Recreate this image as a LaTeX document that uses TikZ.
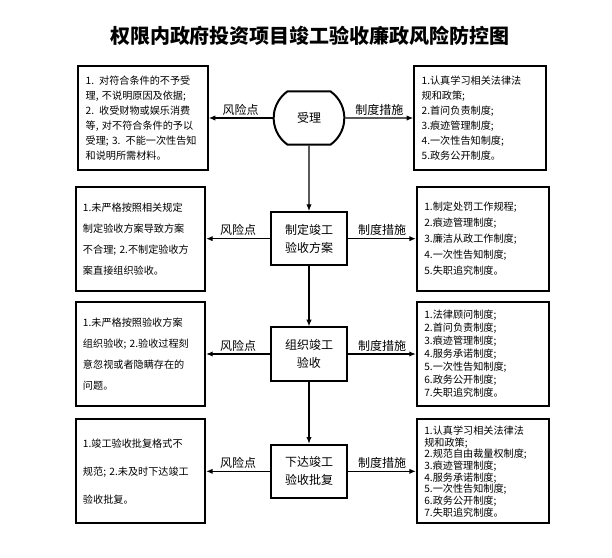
\documentclass[tikz,border=0pt]{standalone}
\usepackage{fontspec}
\setmainfont{Noto Sans CJK SC}
\usetikzlibrary{
  arrows.meta,
  positioning,
  shapes.misc
}
\tikzset{
  stepbox/.style={draw=black,line width=1.5pt,fill=white,
    minimum width=57pt,minimum height=40pt,inner sep=2pt,align=center,
    font=\fontsize{9}{13.5}\selectfont},
  startbox/.style={stepbox,rounded rectangle,rounded rectangle arc length=110},
  riskbox/.style={draw=black,line width=1.5pt,fill=white,
    text width=86pt,minimum height=78pt,inner xsep=5.5pt,align=left},
  measurebox/.style={draw=black,line width=1.5pt,fill=white,
    text width=88pt,minimum height=78pt,inner xsep=5.5pt,align=left},
  boxfont/.style={font=\fontsize{7.6}{#1}\selectfont},
  riskflow/.style={-{Latex[length=5pt,width=4pt]},line width=1.1pt},
  downflow/.style={-{Latex[length=5pt,width=4pt]},line width=0.8pt},
  lab/.style={font=\fontsize{9}{10}\selectfont,inner sep=1.5pt}
}

\begin{document}
\begin{tikzpicture}[x=0.75pt,y=-0.75pt,node distance=46.5pt and 48pt]
  \useasboundingbox[fill=white] (0,0) rectangle (612,558);
  \node[font=\fontsize{15}{18}\selectfont\bfseries] (title) at (310,36)
    {权限内政府投资项目竣工验收廉政风险防控图};

  % steps
  \node[startbox] (accept) at (309,118) {受理};
  \node[stepbox,below=49pt of accept] (plan) {制定竣工\\验收方案};
  \node[stepbox,below=45pt of plan] (organize) {组织竣工\\验收};
  \node[stepbox,below=46.5pt of organize] (issue) {下达竣工\\验收批复};

  \draw[downflow] (accept)--(plan);
  \draw[downflow] (plan)--(organize);
  \draw[downflow] (organize)--(issue);

  % risk points
  \node[riskbox,boxfont=11.25pt,left=of accept] (riskA) {
    1. 对符合条件的不予受\\
    理, 不说明原因及依据;\\
    2. 收受财物或娱乐消费\\
    等, 对不符合条件的予以\\
    受理; 3. 不能一次性告知\\
    和说明所需材料。};
  \node[riskbox,boxfont=15.75pt,left=of plan] (riskB) {
    1.未严格按照相关规定\\
    制定验收方案导致方案\\
    不合理; 2.不制定验收方\\
    案直接组织验收。};
  \node[riskbox,boxfont=15.75pt,left=of organize] (riskC) {
    1.未严格按照验收方案\\
    组织验收; 2.验收过程刻\\
    意忽视或者隐瞒存在的\\
    问题。};
  \node[riskbox,boxfont=21pt,left=of issue] (riskD) {
    1.竣工验收批复格式不\\
    规范; 2.未及时下达竣工\\
    验收批复。};

  % measures
  \node[measurebox,boxfont=11.25pt,right=51pt of accept] (ruleA) {
    1.认真学习相关法律法\\
    规和政策;\\
    2.首问负责制度;\\
    3.痕迹管理制度;\\
    4.一次性告知制度;\\
    5.政务公开制度。};
  \node[measurebox,boxfont=12pt,right=51pt of plan] (ruleB) {
    1.制定处罚工作规程;\\
    2.痕迹管理制度;\\
    3.廉洁从政工作制度;\\
    4.一次性告知制度;\\
    5.失职追究制度。};
  \node[measurebox,boxfont=9.75pt,right=51pt of organize] (ruleC) {
    1.法律顾问制度;\\
    2.首问负责制度;\\
    3.痕迹管理制度;\\
    4.服务承诺制度;\\
    5.一次性告知制度;\\
    6.政务公开制度;\\
    7.失职追究制度。};
  \node[measurebox,boxfont=8.75pt,right=51pt of issue] (ruleD) {
    1.认真学习相关法律法\\
    规和政策;\\
    2.规范自由裁量权制度;\\
    3.痕迹管理制度;\\
    4.服务承诺制度;\\
    5.一次性告知制度;\\
    6.政务公开制度;\\
    7.失职追究制度。};

  \draw[riskflow] (accept)--node[lab,above]{风险点}(riskA);
  \draw[riskflow] (plan)--node[lab,above]{风险点}(riskB);
  \draw[riskflow] (organize)--node[lab,above]{风险点}(riskC);
  \draw[riskflow] (issue)--node[lab,above]{风险点}(riskD);

  \draw[riskflow] (accept)--node[lab,above]{制度措施}(ruleA);
  \draw[riskflow] (plan)--node[lab,above]{制度措施}(ruleB);
  \draw[riskflow] (organize)--node[lab,above]{制度措施}(ruleC);
  \draw[riskflow] (issue)--node[lab,above]{制度措施}(ruleD);
\end{tikzpicture}
\end{document}
